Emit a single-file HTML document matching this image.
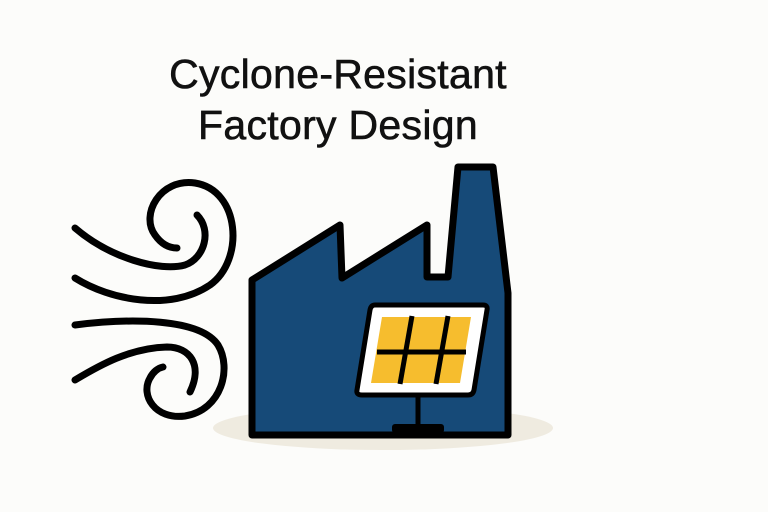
<!DOCTYPE html>
<html><head><meta charset="utf-8"><style>
html,body{margin:0;padding:0;background:#fcfcfa;}
body{width:768px;height:512px;overflow:hidden;position:relative;}
.t{position:absolute;left:0;width:676px;text-align:center;font-family:"Liberation Sans",sans-serif;font-size:41px;color:#111;-webkit-text-stroke:0.6px #111;letter-spacing:0.3px;}
</style></head><body>
<div class="t" style="top:51px">Cyclone-Resistant</div>
<div class="t" style="top:102px">Factory Design</div>
<svg width="768" height="512" style="position:absolute;left:0;top:0">
<ellipse cx="383" cy="428" rx="170" ry="22" fill="#efebe0"/>
<g fill="none" stroke="#000" stroke-width="7" stroke-linecap="round" stroke-linejoin="round">
<path d="M75,228 C110,258 160,272 185,265 C205,258 212,230 197,215"/>
<path d="M75,278 C110,300 170,312 210,285 C245,260 240,190 195,183 C160,178 140,215 155,235 C162,245 170,248 177,248"/>
<path d="M75,325 C130,318 200,318 218,345 C232,368 222,410 185,416 C155,420 140,395 150,378 C153,372 158,368 163,367"/>
<path d="M75,380 C100,365 130,348 167,347 C190,347 203,365 190,392"/>
</g>
<path d="M252,280 L340,225 L342,278 L427,225 L427,277 L448,277 L458,167 L493,167 L508,293 L508,435 L252,435 Z" fill="#164a78" stroke="#000" stroke-width="7" stroke-linejoin="round"/>
<line x1="418" y1="393" x2="418" y2="426" stroke="#000" stroke-width="5"/>
<rect x="392" y="424" width="52" height="9" rx="3" fill="#000"/>
<path d="M375,305 L483,305 Q488,305 487,310 L474,390 Q473,395 468,395 L362,395 Q356,395 357,390 L370,310 Q371,305 375,305 Z" fill="#fff" stroke="#000" stroke-width="5"/>
<path d="M382,317 L471,317 L460,383 L371,383 Z" fill="#f6bd2e"/>
<g stroke="#000" stroke-width="5">
<line x1="377" y1="352" x2="466" y2="352"/>
<line x1="412" y1="316" x2="400" y2="384"/>
<line x1="448" y1="316" x2="436" y2="384"/>
</g>
</svg>
</body></html>
